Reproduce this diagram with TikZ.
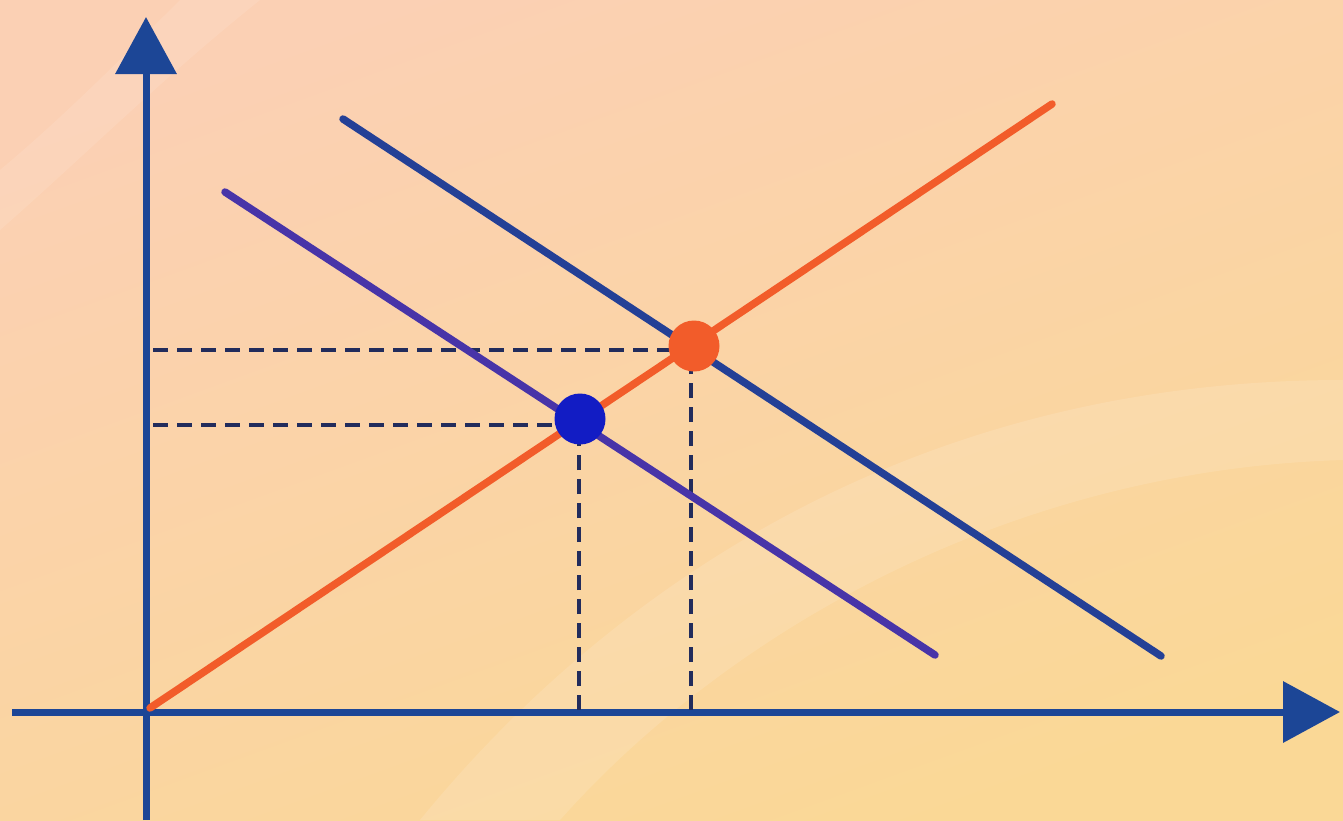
\documentclass[tikz,border=0pt]{standalone}
\usepackage{xcolor}
\usetikzlibrary{arrows.meta, positioning}
\definecolor{bgtop}{RGB}{251,208,180}
\definecolor{bgbot}{RGB}{250,216,150}
\definecolor{axisblue}{RGB}{28,70,150}
\definecolor{supplyorange}{RGB}{242,92,42}
\definecolor{demandpurple}{RGB}{72,52,168}
\definecolor{demandblue}{RGB}{36,64,150}
\definecolor{dashnavy}{RGB}{34,44,92}
\definecolor{dotblue}{RGB}{18,28,196}

\begin{document}
\begin{tikzpicture}[
  x=1pt, y=-1pt,
  axisline/.style={draw=axisblue, line width=7pt, -{Triangle[length=57pt, width=60pt]}},
  curveline/.style={line width=7.5pt, line cap=round},
  guide/.style={draw=dashnavy, line width=4pt, dash pattern=on 15pt off 9pt},
  eqdot/.style={circle, minimum size=51pt, inner sep=0pt},
]
  % background
  \shade[top color=bgtop, bottom color=bgbot, shading angle=20] (0,0) rectangle (1343,820);
  \fill[white, opacity=0.12] (1343,380) .. controls (900,380) and (600,600) .. (420,820) -- (560,820) .. controls (720,640) and (1000,470) .. (1343,460) -- cycle;
  \fill[white, opacity=0.10] (0,170) .. controls (60,120) and (120,60) .. (180,0) -- (260,0) .. controls (160,80) and (80,160) .. (0,230) -- cycle;
  \useasboundingbox (0,0) rectangle (1343,820);

  % axes
  \coordinate (origin) at (146,712);
  \coordinate (ybot) at (146,820);
  \coordinate (ytop) at (146,17);
  \coordinate (xleft) at (12,712);
  \coordinate (xright) at (1340,712);
  \draw[axisline] (ybot) -- (ytop);
  \draw[axisline] (xleft) -- (xright);

  % curves
  \coordinate (s1) at (150,708);
  \coordinate (s2) at (1052,104);
  \coordinate (d1a) at (225,192);
  \coordinate (d1b) at (935,655);
  \coordinate (d2a) at (343,119);
  \coordinate (d2b) at (1161,656);

  % equilibria
  \node[eqdot] (eq1) at (580,419) {};
  \node[eqdot] (eq2) at (694,346) {};

  % guides
  \coordinate (p1) at (153,425);
  \coordinate (p2) at (153,350);
  \coordinate (q1) at (579,710);
  \coordinate (q2) at (691,710);
  \draw[guide] (p1) -- (p1 -| eq1.center);
  \draw[guide] (p2) -- (p2 -| eq2.center);
  \draw[guide] (q1) -- (q1 |- eq1.center);
  \draw[guide] (q2) -- (q2 |- eq2.center);

  \draw[curveline, draw=demandpurple] (d1a) -- (d1b);
  \draw[curveline, draw=demandblue] (d2a) -- (d2b);
  \draw[curveline, draw=supplyorange] (s1) -- (s2);

  \fill[dotblue] (eq1) circle (25.5);
  \fill[supplyorange] (eq2) circle (25.5);
\end{tikzpicture}
\end{document}
